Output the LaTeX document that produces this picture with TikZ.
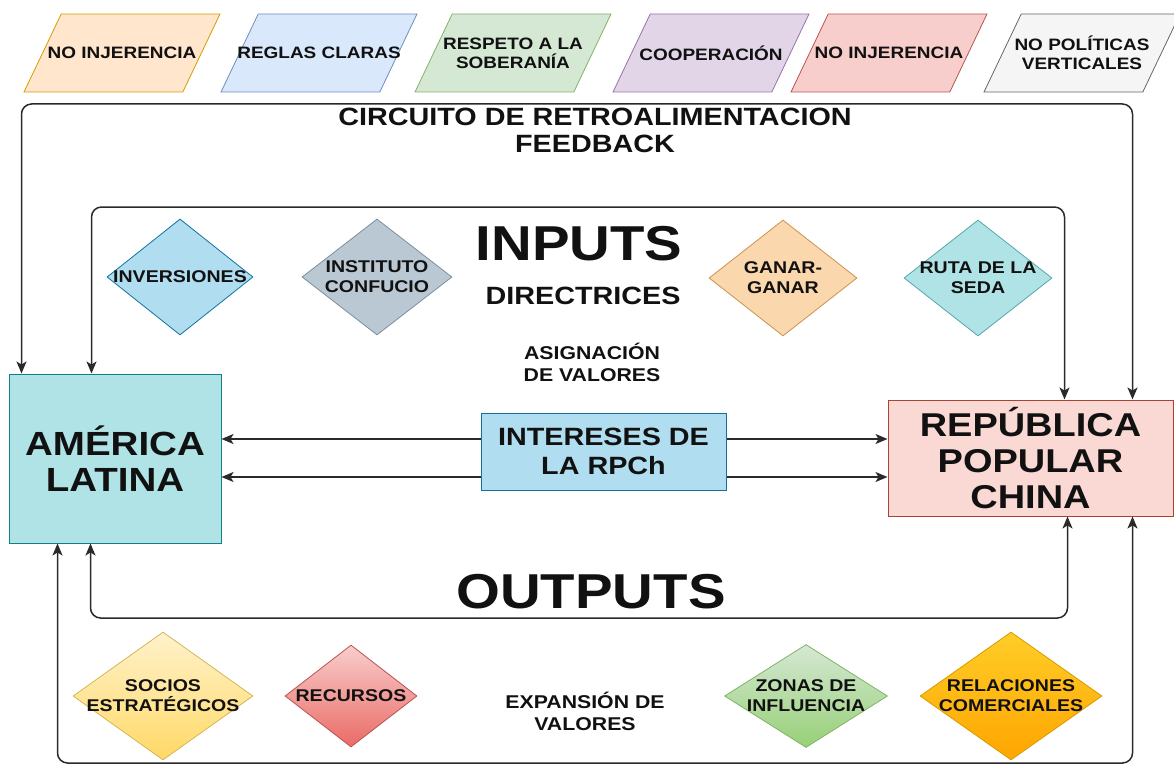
\documentclass[tikz,border=0pt]{standalone}
\usepackage{fontspec}
\setmainfont{Liberation Sans}[FakeStretch=1.15]
\usetikzlibrary{arrows.meta,positioning,shapes.geometric}

\definecolor{ink}{HTML}{111111}
\definecolor{wire}{HTML}{2A2A2A}
\definecolor{orF}{HTML}{FFE6CC}\definecolor{orD}{HTML}{D79B00}
\definecolor{blF}{HTML}{DAE8FC}\definecolor{blD}{HTML}{6C8EBF}
\definecolor{grF}{HTML}{D5E8D4}\definecolor{grD}{HTML}{82B366}
\definecolor{puF}{HTML}{E1D5E7}\definecolor{puD}{HTML}{9673A6}
\definecolor{reF}{HTML}{F8CECC}\definecolor{reD}{HTML}{B85450}
\definecolor{gyF}{HTML}{F5F5F5}\definecolor{gyD}{HTML}{666666}
\definecolor{skyF}{HTML}{B1DDF0}\definecolor{skyD}{HTML}{10739E}
\definecolor{tealF}{HTML}{B0E3E6}\definecolor{tealD}{HTML}{0E8088}
\definecolor{slateF}{HTML}{BAC8D3}\definecolor{slateD}{HTML}{23445D}
\definecolor{tanF}{HTML}{FAD7AC}\definecolor{tanD}{HTML}{B46504}
\definecolor{pinkF}{HTML}{FAD9D5}\definecolor{pinkD}{HTML}{AE4132}
\definecolor{yelT}{HTML}{FFF2CC}\definecolor{yelB}{HTML}{FFD966}\definecolor{yelD}{HTML}{D6B656}
\definecolor{redT}{HTML}{F8CECC}\definecolor{redB}{HTML}{EA6B66}
\definecolor{grnB}{HTML}{97D077}
\definecolor{ambT}{HTML}{FFCD28}\definecolor{ambB}{HTML}{FFA500}

\begin{document}
\begin{tikzpicture}[
  x=1pt, y=-1pt,
  par/.style={trapezium, draw, line width=0.8pt, trapezium left angle=73, trapezium right angle=107,
    trapezium stretches=true, minimum width=196pt, minimum height=78pt, inner sep=2pt},
  ptxt/.style={font=\bfseries\fontsize{16.5}{19}\selectfont, align=center, text=ink},
  dia/.style={diamond, draw, line width=0.8pt, inner sep=1pt},
  dtxt/.style={font=\bfseries\fontsize{17}{20}\selectfont, align=center, text=ink},
  box/.style={rectangle, draw, line width=1pt, align=center, text=ink},
  big/.style={font=\bfseries\fontsize{49}{52}\selectfont, text=ink},
  sm/.style={font=\bfseries\fontsize{18.5}{22}\selectfont, align=center, text=ink},
  arr/.style={{Stealth[length=12pt,width=10pt,inset=3pt]}-{Stealth[length=12pt,width=10pt,inset=3pt]},
    line width=1.5pt, draw=wire, rounded corners=10pt},
  tip/.style={-{Stealth[length=12pt,width=10pt,inset=3pt]}, line width=1.5pt, draw=wire}
]
  \useasboundingbox (0,0) rectangle (1174,770);

  % principios
  \node[par, fill=orF, draw=orD, label={[ptxt]center:NO INJERENCIA}] (p1) at (122,53) {};
  \node[par, fill=blF, draw=blD, label={[ptxt]center:REGLAS CLARAS}] (p2) at (319,53) {};
  \node[par, fill=grF, draw=grD, label={[ptxt]center:{RESPETO A LA\\SOBERANÍA}}] (p3) at (513,53) {};
  \node[par, fill=puF, draw=puD, label={[ptxt]center:COOPERACIÓN}] (p4) at (711,53) {};
  \node[par, fill=reF, draw=reD, label={[ptxt]center:NO INJERENCIA}] (p5) at (889,53) {};
  \node[par, fill=gyF, draw=gyD, label={[ptxt]center:{NO POLÍTICAS\\VERTICALES}}] (p6) at (1082,53) {};

  % actores
  \node[box, fill=tealF, draw=tealD, minimum width=212pt, minimum height=169pt,
    font=\bfseries\fontsize{33.5}{36}\selectfont] (al) at (115,458.5) {AMÉRICA\\LATINA};
  \node[box, fill=skyF, draw=skyD, minimum width=245pt, minimum height=77pt,
    font=\bfseries\fontsize{25}{29}\selectfont] (int) at (603.5,451.5) {INTERESES DE\\LA RPCh};
  \node[box, fill=pinkF, draw=pinkD, minimum width=285pt, minimum height=116pt,
    font=\bfseries\fontsize{33}{36}\selectfont] (rpc) at (1030.5,458) {REPÚBLICA\\POPULAR\\CHINA};

  % inputs
  \node[dia, fill=skyF, draw=skyD, minimum width=146pt, minimum height=116pt,
    label={[dtxt]center:INVERSIONES}] (inv) at (180,277) {};
  \node[dia, fill=slateF, draw=slateD!60, minimum width=150pt, minimum height=116pt,
    label={[dtxt]center:{INSTITUTO\\CONFUCIO}}] (conf) at (377,277) {};
  \node[dia, fill=tanF, draw=tanD!70, minimum width=148pt, minimum height=116pt,
    label={[dtxt]center:{GANAR-\\GANAR}}] (gan) at (783,278) {};
  \node[dia, fill=tealF, draw=tealD!70, minimum width=148pt, minimum height=116pt,
    label={[dtxt]center:{RUTA DE LA\\SEDA}}] (ruta) at (978,278) {};

  % outputs
  \node[dia, top color=yelT, bottom color=yelB, draw=yelD, minimum width=180pt, minimum height=128pt,
    label={[dtxt]center:{SOCIOS\\ESTRATÉGICOS}}] (soc) at (163,696) {};
  \node[dia, top color=redT, bottom color=redB, draw=reD, minimum width=132pt, minimum height=102pt,
    label={[dtxt]center:RECURSOS}] (rec) at (351,696) {};
  \node[dia, top color=grF, bottom color=grnB, draw=grD, minimum width=163pt, minimum height=103pt,
    label={[dtxt]center:{ZONAS DE\\INFLUENCIA}}] (zon) at (806,696) {};
  \node[dia, top color=ambT, bottom color=ambB, draw=orD, minimum width=182pt, minimum height=128pt,
    label={[dtxt]center:{RELACIONES\\COMERCIALES}}] (rel) at (1011,696) {};

  % textos
  \node[font=\bfseries\fontsize{25}{27}\selectfont, align=center, text=ink] (fbl) at (595,130)
    {CIRCUITO DE RETROALIMENTACION\\FEEDBACK};
  \node[big] (inl) at (579,244) {INPUTS};
  \node[font=\bfseries\fontsize{25}{28}\selectfont, text=ink] (dirl) at (583,296) {DIRECTRICES};
  \node[sm] (asig) at (592,362) {ASIGNACIÓN\\DE VALORES};
  \node[big] (outl) at (591,592) {OUTPUTS};
  \node[sm] (expl) at (585,711) {EXPANSIÓN DE\\VALORES};

  % circuitos
  \coordinate (fb) at (600,104);
  \coordinate (inp) at (600,207);
  \coordinate (outp) at (600,618);
  \coordinate (expv) at (600,763);
  \draw[arr] ([xshift=13pt]al.north west) |- (fb) -| ([xshift=245pt]rpc.north west);
  \draw[arr] ([xshift=83pt]al.north west) |- (inp) -| ([xshift=177pt]rpc.north west);
  \draw[arr] ([xshift=82pt]al.south west) |- (outp) -| ([xshift=180pt]rpc.south west);
  \draw[arr] ([xshift=49pt]al.south west) |- (expv) -| ([xshift=245pt]rpc.south west);

  \draw[tip] ([yshift=12.5pt]int.west) -- ([yshift=12.5pt]int.west -| al.east);
  \draw[tip] ([yshift=-25.5pt]int.west) -- ([yshift=-25.5pt]int.west -| al.east);
  \draw[tip] ([yshift=12.5pt]int.east) -- ([yshift=12.5pt]int.east -| rpc.west);
  \draw[tip] ([yshift=-25.5pt]int.east) -- ([yshift=-25.5pt]int.east -| rpc.west);
\end{tikzpicture}
\end{document}
